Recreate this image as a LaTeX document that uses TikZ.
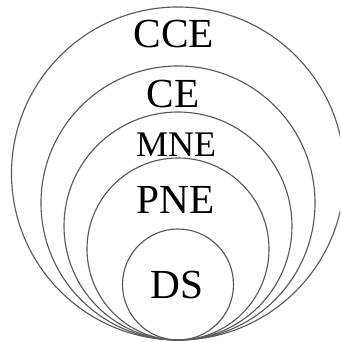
\documentclass[tikz,border=0pt]{standalone}
\usepackage{fontspec}
\setmainfont{Liberation Serif}
\usetikzlibrary{positioning,calc}

\begin{document}
\begin{tikzpicture}[
    x=0.75pt, y=0.75pt,
    ring/.style={
        draw=black!65,
        line width=0.85pt
    },
    setlabel/.style={
        font=\fontsize{31}{31}\selectfont,
        inner sep=0pt
    },
    smalllabel/.style={
        font=\fontsize{27}{27}\selectfont,
        inner sep=0pt
    }
]

\useasboundingbox (0,0) rectangle (340,342);
\clip (0,0) rectangle (340,342);

% --- Punto de tangencia comun ---
\coordinate (touch) at (178,2);

% --- Circulos anidados ---
\draw[ring] ($(touch)+(0,166.5)$) circle[radius=166.5];
\draw[ring] ($(touch)+(0,137)$)   circle[radius=137];
\draw[ring] ($(touch)+(0,114)$)   circle[radius=114];
\draw[ring] ($(touch)+(0,91)$)    circle[radius=91];
\draw[ring] ($(touch)+(0,55.5)$)  circle[radius=55.5];

% --- Etiquetas ---
\node[setlabel]   (cce) at (174,308) {CCE};
\node[setlabel]   (ce)  at (173,248) {CE};
\node[smalllabel] (mne) at (176,197) {MNE};
\node[setlabel]   (pne) at (176,142) {PNE};
\node[setlabel]   (ds)  at (177,57)  {DS};

\end{tikzpicture}
\end{document}
